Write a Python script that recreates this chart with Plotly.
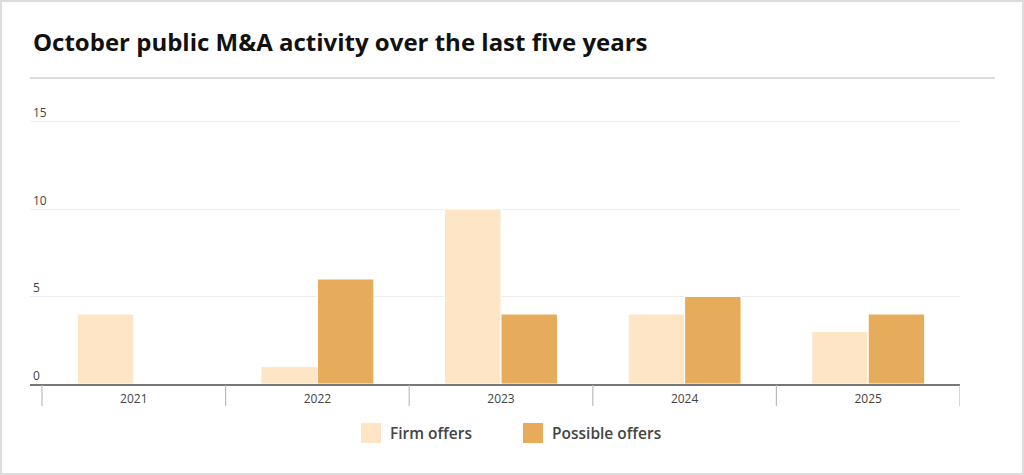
import plotly.graph_objects as go

years = ["2021", "2022", "2023", "2024", "2025"]
firm_offers = [4, 1, 10, 4, 3]
possible_offers = [0, 6, 4, 5, 4]
y_ticks = [0, 5, 10, 15]

FIRM = "#FDE5C6"
POSS = "#E6AC5B"
FONT = "Open Sans"
W, H = 1024, 475
L, R, T, B = 30, 64, 104, 91
YMAX = 16

fig = go.Figure()
fig.add_trace(go.Bar(x=years, y=firm_offers, name="Firm offers", marker=dict(color=FIRM, line=dict(color="white", width=1)), showlegend=False))
fig.add_trace(go.Bar(x=years, y=possible_offers, name="Possible offers", marker=dict(color=POSS, line=dict(color="white", width=1)), showlegend=False))

n = len(years)
xr0 = -0.5 - 12 * n / (W - L - R - 12)

fig.update_layout(
    width=W, height=H,
    margin=dict(l=L, r=R, t=T, b=B),
    paper_bgcolor="white", plot_bgcolor="white",
    barmode="group", bargap=0.385, bargroupgap=0.0,
    font=dict(family=FONT, color="#444"),
    xaxis=dict(range=[xr0, n - 0.5], showgrid=False, zeroline=False, showline=True,
               linecolor="#777", linewidth=2, ticks="", tickfont=dict(size=12, color="#444"),
               ticklabelstandoff=3, fixedrange=True),
    yaxis=dict(range=[0, YMAX], tickvals=y_ticks, showgrid=True, gridcolor="#EEEEEE", gridwidth=1,
               zeroline=False, showline=False, ticks="", ticklabelposition="inside top",
               tickfont=dict(size=12, color="#444"), fixedrange=True),
    showlegend=False,
)

def px_x(p):
    return (p - L) / (W - L - R)

def px_y(p):
    return (H - B - p) / (H - T - B)

shapes = []
for i in range(n + 1):
    shapes.append(dict(type="line", xref="x", yref="paper", x0=i - 0.5, x1=i - 0.5,
                       y0=px_y(385), y1=px_y(406), line=dict(color="#BBBBBB", width=1.2)))
shapes.append(dict(type="line", xref="paper", yref="paper",
                   x0=px_x(30), x1=px_x(995), y0=px_y(78), y1=px_y(78),
                   line=dict(color="#DDDDDD", width=2)))
shapes.append(dict(type="rect", xref="paper", yref="paper",
                   x0=px_x(1), x1=px_x(W - 1), y0=px_y(H - 1), y1=px_y(1),
                   line=dict(color="#DDDDDD", width=2), fillcolor="rgba(0,0,0,0)", layer="above"))

annotations = []
legend_items = [("Firm offers", FIRM, 361), ("Possible offers", POSS, 523)]
for label, col, x0 in legend_items:
    shapes.append(dict(type="rect", xref="paper", yref="paper",
                       x0=px_x(x0), x1=px_x(x0 + 20), y0=px_y(443), y1=px_y(423),
                       fillcolor=col, line=dict(width=0)))
    annotations.append(dict(text=label, xref="paper", yref="paper", x=px_x(x0 + 27), y=px_y(433),
                            xanchor="left", yanchor="middle", showarrow=False,
                            font=dict(size=15.5, color="#444", family=FONT, weight=600)))

annotations.append(dict(text="October public M&A activity over the last five years", xref="paper", yref="paper",
                        x=px_x(31), y=px_y(42), xanchor="left", yanchor="middle", showarrow=False,
                        font=dict(size=24, color="#111", family=FONT, weight=700)))

fig.update_layout(shapes=shapes, annotations=annotations)
fig.write_html("out.html", config={"displayModeBar": False},
               post_script="document.body.style.margin='0';document.body.style.overflow='hidden';")
